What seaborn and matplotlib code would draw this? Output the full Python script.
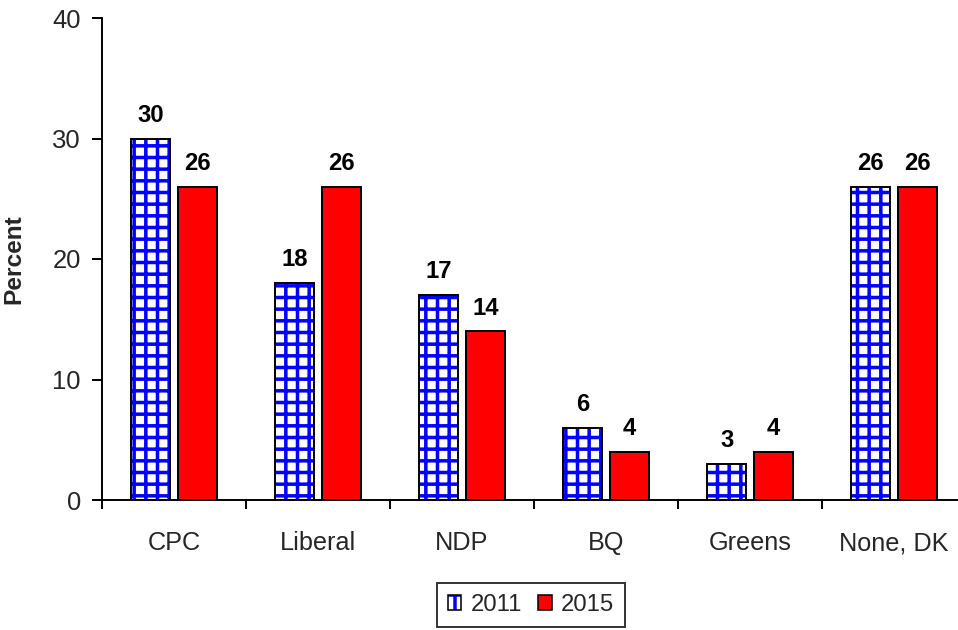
import matplotlib
matplotlib.use("Agg")
import matplotlib.pyplot as plt
from matplotlib.patches import Patch, Rectangle
import seaborn as sns
import pandas as pd
import numpy as np

# data
parties = ["CPC", "Liberal", "NDP", "BQ", "Greens", "None, DK"]
pct_2011 = [30, 18, 17, 6, 3, 26]
pct_2015 = [26, 26, 14, 4, 4, 26]
years = ["2011", "2015"]

DPI = 140

sns.set_theme(style="white")
plt.rcParams["font.family"] = ["Liberation Sans", "DejaVu Sans"]
plt.rcParams["hatch.linewidth"] = 1.8

df = pd.DataFrame({
    "party": parties * 2,
    "year": [years[0]] * len(parties) + [years[1]] * len(parties),
    "pct": pct_2011 + pct_2015,
})

fig = plt.figure(figsize=(958 / DPI, 630 / DPI), dpi=DPI)
ax = fig.add_axes([102 / 958, 1 - 500 / 630, 864 / 958, 482 / 630])

sns.barplot(data=df, x="party", y="pct", hue="year", order=parties,
            hue_order=years, palette={"2011": "white", "2015": "#FF0000"},
            saturation=1, width=0.65, gap=0.17, edgecolor="black",
            linewidth=1.0, legend=False, ax=ax)

# 2011 bars: blue grid hatch, black outline on top
for bar in ax.containers[0]:
    bar.set_hatch("++")
    bar.set_edgecolor("#0000FF")
    bar.set_linewidth(0)
    ax.add_patch(Rectangle(bar.get_xy(), bar.get_width(), bar.get_height(),
                           fill=False, edgecolor="black", linewidth=1.0,
                           zorder=bar.get_zorder() + 0.1))

for cont in ax.containers:
    ax.bar_label(cont, fmt="%d", fontweight="bold", fontsize=12.3,
                 padding=6, color="black")

ax.set_ylim(0, 40)
ax.set_xlim(-0.5, len(parties) - 0.5)
ax.set_yticks([0, 10, 20, 30, 40])
ax.set_xlabel("")
ax.set_ylabel("Percent", fontsize=12.6, fontweight="bold", labelpad=14)

ax.tick_params(axis="y", direction="out", length=5, width=1, color="black",
               pad=5.8, labelsize=13.2, left=True)
ax.set_xticks(np.arange(len(parties)))
ax.set_xticklabels(parties)
ax.set_xticks(np.arange(len(parties) + 1) - 0.5, minor=True)
ax.tick_params(axis="x", which="major", length=0, pad=16, labelsize=13)
ax.tick_params(axis="x", which="minor", direction="out", length=4.6,
               width=1, color="black", bottom=True)

sns.despine(ax=ax)
for side in ["left", "bottom"]:
    ax.spines[side].set_color("black")
    ax.spines[side].set_linewidth(1.0)

h2011 = (Patch(facecolor="white", edgecolor="#0000FF", hatch="+", linewidth=0),
         Patch(facecolor="none", edgecolor="black", linewidth=0.8))
h2015 = Patch(facecolor="#FF0000", edgecolor="black", linewidth=0.8)
leg = fig.legend([h2011, h2015], years, loc="center",
                 bbox_to_anchor=(531 / 958, 1 - 605 / 630), ncol=2,
                 fontsize=12.3, frameon=True, fancybox=False,
                 handlelength=0.55, handleheight=0.55, handletextpad=0.4,
                 columnspacing=0.7, borderpad=0.45)
leg.get_frame().set_edgecolor("black")
leg.get_frame().set_linewidth(1.0)

fig.savefig("out.png", dpi=DPI)
